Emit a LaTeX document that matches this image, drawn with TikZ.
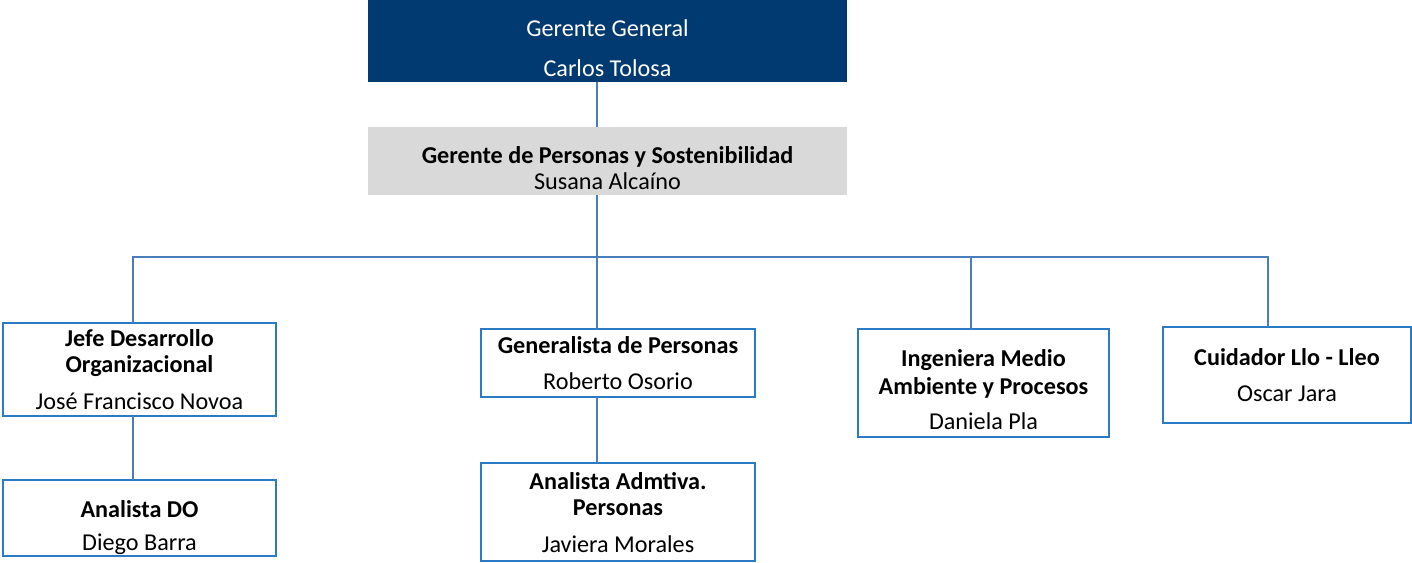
\documentclass[tikz,border=0pt]{standalone}
\usepackage{fontspec}
\setmainfont{Carlito}
\usepackage{xcolor}
\usetikzlibrary{calc,
	positioning}
\definecolor{navy}{HTML}{003A70}
\definecolor{grisbox}{HTML}{D9D9D9}
\definecolor{borde}{HTML}{2A7AC6}
\definecolor{linea}{HTML}{4A7EBB}
\newcommand{\altura}[1]{\rule{0pt}{#1}}
\tikzstyle{txt}=[inner sep=0, outer sep=0, align=center, text depth=0pt,
		font=\fontsize{17.2}{18.5}\selectfont]
\tikzstyle{cargo}=[txt, draw=borde, line width=1.4pt, fill=white]
\tikzstyle{gerente}=[txt, fill=navy, text=white]
\tikzstyle{gerpers}=[txt, fill=grisbox]
\tikzstyle{con}=[draw=linea, line width=1.3pt]

\begin{document}
\begin{tikzpicture}[x=0.025cm, y=-0.025cm]
        \useasboundingbox (0,0) rectangle (1412,562);
        \node[gerente, minimum width=11.975cm, minimum height=2.05cm] (gg) at (607.5,41)
            {\altura{22pt}Gerente General\\[10pt]Carlos Tolosa};
        \node[gerpers, minimum width=11.975cm, minimum height=1.7cm] (gp) at (607.5,161)
            {\altura{21.4pt}\textbf{Gerente de Personas y Sostenibilidad}\\Susana Alcaíno};
        \node[cargo, minimum width=6.825cm, minimum height=2.325cm] (jefe) at (139.5,369.5)
            {\textbf{Jefe Desarrollo}\\\textbf{Organizacional}\\[7.8pt]José Francisco Novoa};
        \node[cargo, minimum width=6.825cm, minimum height=1.9cm] (ado) at (139.5,518)
            {\altura{22.2pt}\textbf{Analista DO}\\[5pt]Diego Barra};
        \node[cargo, minimum width=6.85cm, minimum height=1.7cm] (gen) at (618,363)
            {\textbf{Generalista de Personas}\\[7.8pt]Roberto Osorio};
        \node[cargo, minimum width=6.85cm, minimum height=2.45cm] (aap) at (618,512)
            {\textbf{Analista Admtiva.}\\\textbf{Personas}\\[7.8pt]Javiera Morales};
        \node[cargo, minimum width=6.275cm, minimum height=2.7cm] (ing) at (983.5,383)
            {\altura{22pt}\textbf{Ingeniera Medio}\\[1.4pt]\textbf{Ambiente y Procesos}\\[6.4pt]Daniela Pla};
        \node[cargo, minimum width=6.2cm, minimum height=2.4cm] (cui) at (1287,375)
            {\textbf{Cuidador Llo - Lleo}\\[7.8pt]Oscar Jara};
        \coordinate (tronco) at (597,257);
        \coordinate (b1) at (133,257);
        \coordinate (b3) at (971,257);
        \coordinate (b4) at (1268,257);
        \draw[con] (gg.south -| tronco) -- (gp.north -| tronco);
        \draw[con] (gp.south -| tronco) -- (gen.north -| tronco);
        \draw[con] (jefe.north -| b1) -- (b1) -- (b4) -- (cui.north -| b4);
        \draw[con] (b3) -- (ing.north -| b3);
        \draw[con] (jefe.south -| b1) -- (ado.north -| b1);
        \draw[con] (gen.south -| tronco) -- (aap.north -| tronco);
    \end{tikzpicture}
\end{document}
